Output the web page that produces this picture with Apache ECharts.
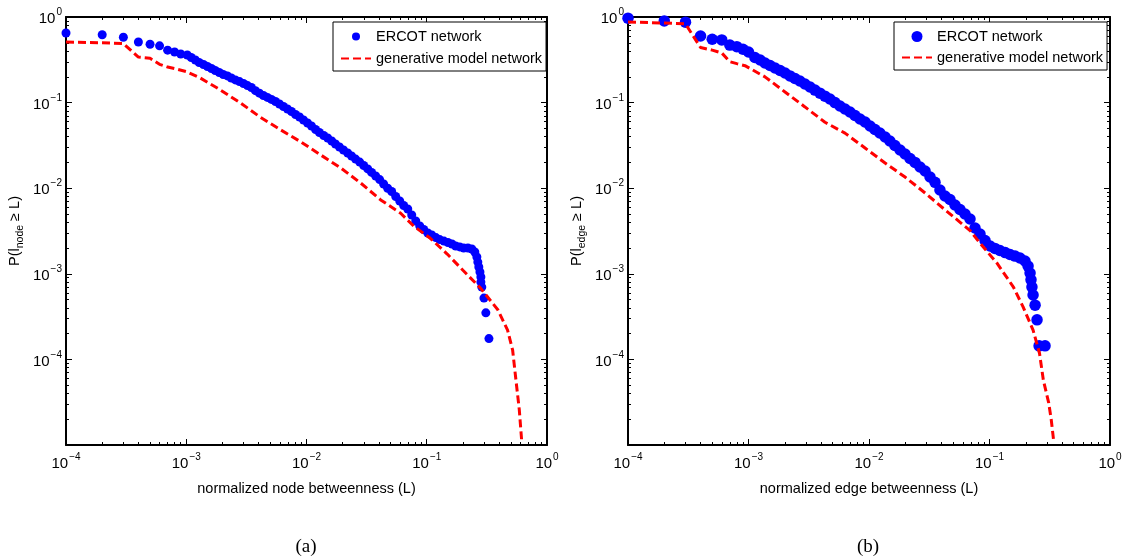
<!DOCTYPE html>
<html><head><meta charset="utf-8">
<script src="https://cdn.jsdelivr.net/npm/echarts@6/dist/echarts.min.js"></script>
<style>html,body{margin:0;padding:0;background:#fff}#c{width:1125px;height:559px}</style>
</head><body><div id="c"></div>
<script>
// ---------- data ----------
const seriesNames = ['ERCOT network', 'generative model network'];
const xAxisNames = ['normalized node betweenness (L)', 'normalized edge betweenness (L)'];
const yAxisSubs = ['node', 'edge'];
const captions = ['(a)', '(b)'];
const majorTicks = [1e-4, 1e-3, 1e-2, 1e-1, 1];
const yMajorTicks = [1e-5, 1e-4, 1e-3, 1e-2, 1e-1, 1];
const yLabelTicks = [1e-4, 1e-3, 1e-2, 1e-1, 1];
const minorMultipliers = [2, 3, 4, 5, 6, 7, 8, 9];

const nodeErcot = [
[1e-4,0.65],[2e-4,0.62],[3e-4,0.58],[4e-4,0.51],[5e-4,0.48],[6e-4,0.46],[7e-4,0.41],[8e-4,0.39],[9e-4,0.37],
[1.02e-3,0.360],[1.10e-3,0.336],[1.19e-3,0.315],[1.28e-3,0.294],[1.39e-3,0.279],[1.50e-3,0.264],[1.62e-3,0.250],[1.74e-3,0.237],[1.88e-3,0.225],[2.03e-3,0.213],
[2.20e-3,0.205],[2.37e-3,0.194],[2.56e-3,0.184],[2.77e-3,0.176],[2.99e-3,0.167],[3.23e-3,0.158],[3.48e-3,0.150],[3.76e-3,0.138],[4.06e-3,0.129],[4.38e-3,0.121],
[4.73e-3,0.115],[5.11e-3,0.109],[5.52e-3,0.103],[5.96e-3,0.0964],[6.43e-3,0.0900],[6.95e-3,0.0842],[7.50e-3,0.0787],[8.10e-3,0.0726],[8.75e-3,0.0679],[9.44e-3,0.0626],
[0.0102,0.0578],[0.0110,0.0533],[0.0119,0.0485],[0.0128,0.0448],[0.0139,0.0413],[0.0150,0.0386],[0.0162,0.0356],[0.0174,0.0328],[0.0188,0.0303],[0.0203,0.0279],
[0.0220,0.0258],[0.0237,0.0238],[0.0256,0.0219],[0.0277,0.0202],[0.0299,0.0184],[0.0323,0.0168],[0.0348,0.0153],[0.0376,0.0139],[0.0406,0.0126],[0.0438,0.0112],
[0.0473,0.0100],[0.0511,0.00914],[0.0552,0.00800],[0.0596,0.00708],[0.0643,0.00628],[0.0695,0.00571],[0.0750,0.00486],[0.0810,0.00414],[0.0875,0.00362],[0.0944,0.00329],
[0.102,0.00300],[0.110,0.00284],[0.119,0.00265],[0.128,0.00251],[0.139,0.00241],[0.150,0.00232],[0.162,0.00223],[0.174,0.00211],[0.188,0.00206],[0.203,0.00200],
[0.220,0.00200],[0.237,0.00195],[0.251,0.00180],[0.261,0.00157],[0.266,0.00137],[0.271,0.00120],[0.277,0.00105],[0.282,0.00092],[0.282,0.00080],[0.287,0.00070],
[0.299,0.00052],[0.31,0.00035],[0.329,0.000175]
];
const nodeModel = [
[1e-4,0.51],[2e-4,0.50],[3e-4,0.49],[4e-4,0.34],[5e-4,0.33],[6e-4,0.28],[7e-4,0.26],[8e-4,0.25],[1e-3,0.23],[1.3e-3,0.195],
[1.9e-3,0.142],[2.8e-3,0.100],[4.1e-3,0.068],[6.1e-3,0.048],[8.9e-3,0.035],[0.0131,0.0245],[0.0192,0.0173],[0.0282,0.0115],[0.0414,0.0073],[0.0607,0.0051],
[0.078,0.0036],[0.107,0.0026],[0.148,0.0017],[0.2,0.0011],[0.28,0.00068],[0.39,0.00038],[0.47,0.00022],[0.518,0.000128],[0.552,0.000057],[0.588,0.000026],[0.615,0.0000115]
];
const edgeErcot = [
[1e-4,0.97],[2e-4,0.90],[3e-4,0.87],[4e-4,0.60],[5e-4,0.55],[6e-4,0.54],[7e-4,0.47],[8e-4,0.45],[9e-4,0.42],[1e-3,0.39],
[1.13e-3,0.336],[1.25e-3,0.315],[1.37e-3,0.290],[1.51e-3,0.271],[1.66e-3,0.254],[1.83e-3,0.237],[2.01e-3,0.222],[2.21e-3,0.205],[2.43e-3,0.191],[2.67e-3,0.179],
[2.94e-3,0.165],[3.24e-3,0.152],[3.56e-3,0.140],[3.92e-3,0.129],[4.31e-3,0.119],[4.74e-3,0.110],[5.22e-3,0.100],[5.74e-3,0.0912],[6.32e-3,0.0842],[6.95e-3,0.0777],
[7.65e-3,0.0707],[8.42e-3,0.0643],[9.27e-3,0.0593],[0.0102,0.0533],[0.0112,0.0485],[0.0123,0.0442],[0.0136,0.0396],[0.0149,0.0356],[0.0164,0.0315],[0.0181,0.0279],
[0.0199,0.0251],[0.0219,0.0222],[0.0241,0.0200],[0.0265,0.0177],[0.0292,0.0159],[0.0321,0.0135],[0.0353,0.0117],[0.0388,0.00953],[0.0427,0.00811],[0.0470,0.00738],
[0.0517,0.00637],[0.0569,0.00564],[0.0626,0.00500],[0.0689,0.00437],[0.0758,0.00343],[0.0834,0.00292],[0.0918,0.00245],[0.101,0.00211],[0.111,0.00198],[0.122,0.00187],
[0.135,0.00177],[0.148,0.00168],[0.163,0.00161],[0.179,0.00153],[0.197,0.00141],[0.209,0.00123],[0.217,0.00102],[0.221,0.00085],[0.225,0.00070],[0.230,0.000565],
[0.239,0.00043],[0.248,0.00029],[0.258,0.000144],[0.289,0.000144]
];
const edgeModel = [
[1e-4,0.875],[2e-4,0.85],[3e-4,0.83],[4e-4,0.44],[5e-4,0.41],[6e-4,0.38],[7e-4,0.30],[8e-4,0.285],[9.35e-4,0.27],[1.37e-3,0.20],
[2.01e-3,0.133],[2.94e-3,0.089],[4.31e-3,0.059],[6.32e-3,0.044],[9.27e-3,0.0295],[0.0136,0.0197],[0.0199,0.0135],[0.0292,0.0088],[0.0427,0.0056],[0.069,0.0032],
[0.083,0.0023],[0.115,0.00134],[0.158,0.0007],[0.19,0.00041],[0.23,0.00022],[0.26,0.000118],[0.28,0.000057],[0.31,0.000031],[0.325,0.00002],[0.34,0.0000115]
];

// ---------- helpers ----------
const FONT = '"Liberation Sans", Arial, Helvetica, sans-serif';
function minorsBetween(lo, hi) {
  const out = [];
  for (let e = lo; e < hi; e++) minorMultipliers.forEach(m => out.push(Number((m * Math.pow(10, e)).toPrecision(6))));
  return out;
}
const xMinor = minorsBetween(-4, 0);
const yMinor = minorsBetween(-5, 0);
function powLabel(v) {
  const e = Math.round(Math.log10(v));
  return '{b|10}{s|' + (e < 0 ? '\u2212' + (-e) : String(e)) + '}';
}
const labelRich = {
  b: { fontSize: 15, fontFamily: FONT, color: '#000', padding: [4, 0, 0, 0] },
  s: { fontSize: 10, fontFamily: FONT, color: '#000', verticalAlign: 'top', padding: [0, 0, 0, 1] }
};
const lineBlack = { color: '#000', width: 2 };

function makeX(g, name) {
  const base = { type: 'log', logBase: 10, gridIndex: g, min: 1e-4, max: 1, splitLine: { show: false }, minorTick: { show: false } };
  return [
    Object.assign({}, base, {
      position: 'bottom', name: name, nameLocation: 'middle', nameGap: 36,
      nameTextStyle: { fontSize: 14.5, fontFamily: FONT, color: '#000' },
      axisLine: { show: true, onZero: false, lineStyle: lineBlack },
      axisTick: { show: true, inside: true, length: 6, customValues: majorTicks, lineStyle: { color: '#000', width: 1 } },
      axisLabel: { show: true, customValues: majorTicks, margin: 7, formatter: powLabel, rich: labelRich }
    }),
    Object.assign({}, base, {
      position: 'bottom', axisLine: { show: false },
      axisTick: { show: true, inside: true, length: 3, customValues: xMinor, lineStyle: { color: '#000', width: 1 } },
      axisLabel: { show: false }
    }),
    Object.assign({}, base, {
      position: 'top', axisLine: { show: true, onZero: false, lineStyle: lineBlack },
      axisTick: { show: true, inside: true, length: 6, customValues: majorTicks, lineStyle: { color: '#000', width: 1 } },
      axisLabel: { show: false }
    }),
    Object.assign({}, base, {
      position: 'top', axisLine: { show: false },
      axisTick: { show: true, inside: true, length: 3, customValues: xMinor, lineStyle: { color: '#000', width: 1 } },
      axisLabel: { show: false }
    })
  ];
}
function makeY(g, sub) {
  const base = { type: 'log', logBase: 10, gridIndex: g, min: 1e-5, max: 1, splitLine: { show: false }, minorTick: { show: false } };
  return [
    Object.assign({}, base, {
      position: 'left', name: 'P(l{sub|' + sub + '} \u2265 L)', nameLocation: 'middle', nameGap: 40, nameRotate: 90,
      nameTextStyle: { fontSize: 14.5, fontFamily: FONT, color: '#000',
        rich: { sub: { fontSize: 10.5, fontFamily: FONT, color: '#000', padding: [11, 0, 0, 0] } } },
      axisLine: { show: true, onZero: false, lineStyle: lineBlack },
      axisTick: { show: true, inside: true, length: 6, customValues: yMajorTicks, lineStyle: { color: '#000', width: 1 } },
      axisLabel: { show: true, customValues: yLabelTicks, margin: 4, formatter: powLabel, rich: labelRich }
    }),
    Object.assign({}, base, {
      position: 'left', axisLine: { show: false },
      axisTick: { show: true, inside: true, length: 3, customValues: yMinor, lineStyle: { color: '#000', width: 1 } },
      axisLabel: { show: false }
    }),
    Object.assign({}, base, {
      position: 'right', axisLine: { show: true, onZero: false, lineStyle: lineBlack },
      axisTick: { show: true, inside: true, length: 6, customValues: yMajorTicks, lineStyle: { color: '#000', width: 1 } },
      axisLabel: { show: false }
    }),
    Object.assign({}, base, {
      position: 'right', axisLine: { show: false },
      axisTick: { show: true, inside: true, length: 3, customValues: yMinor, lineStyle: { color: '#000', width: 1 } },
      axisLabel: { show: false }
    })
  ];
}
function scatter(axisIdx, data, size) {
  return { name: seriesNames[0], type: 'scatter', xAxisIndex: axisIdx, yAxisIndex: axisIdx, data: data,
    symbol: 'circle', symbolSize: size, itemStyle: { color: '#0000ff', opacity: 1 }, emphasis: { disabled: true }, silent: true };
}
function dashed(axisIdx, data) {
  return { name: seriesNames[1], type: 'line', xAxisIndex: axisIdx, yAxisIndex: axisIdx, data: data,
    symbol: 'none', showSymbol: false, lineStyle: { color: '#ff0000', width: 3, type: [8, 4] },
    itemStyle: { color: '#ff0000' }, emphasis: { disabled: true }, silent: true };
}
function legend(left, iconSize, gap) {
  return { show: true, orient: 'vertical', left: left, top: 22, selectedMode: false,
    padding: [7, 4, 5, 7], itemGap: gap, itemWidth: 30, itemHeight: iconSize,
    borderColor: '#000', borderWidth: 1, backgroundColor: '#fff',
    textStyle: { fontSize: 14.5, fontFamily: FONT, color: '#000' },
    data: [{ name: seriesNames[0], icon: 'circle' }, { name: seriesNames[1], itemStyle: { opacity: 0 } }] };
}

const chart = echarts.init(document.getElementById('c'), null, { renderer: 'canvas' });
chart.setOption({
  animation: false,
  backgroundColor: '#fff',
  grid: [
    { left: 66, top: 17, width: 481, height: 428, containLabel: false, outerBoundsMode: 'none' },
    { left: 628, top: 17, width: 482, height: 428, containLabel: false, outerBoundsMode: 'none' }
  ],
  xAxis: makeX(0, xAxisNames[0]).concat(makeX(1, xAxisNames[1])),
  yAxis: makeY(0, yAxisSubs[0]).concat(makeY(1, yAxisSubs[1])),
  legend: [legend(333, 8, 7), legend(894, 11, 6)],
  series: [
    scatter(0, nodeErcot, 9),
    dashed(0, nodeModel),
    scatter(4, edgeErcot, 11.5),
    dashed(4, edgeModel)
  ],
  graphic: [
    { type: 'text', x: 306, y: 547, silent: true, style: { text: captions[0], fontSize: 19, fontFamily: '"Liberation Serif", "Times New Roman", serif', fill: '#000', align: 'center', verticalAlign: 'middle' } },
    { type: 'text', x: 868, y: 547, silent: true, style: { text: captions[1], fontSize: 19, fontFamily: '"Liberation Serif", "Times New Roman", serif', fill: '#000', align: 'center', verticalAlign: 'middle' } }
  ]
});
</script></body></html>
